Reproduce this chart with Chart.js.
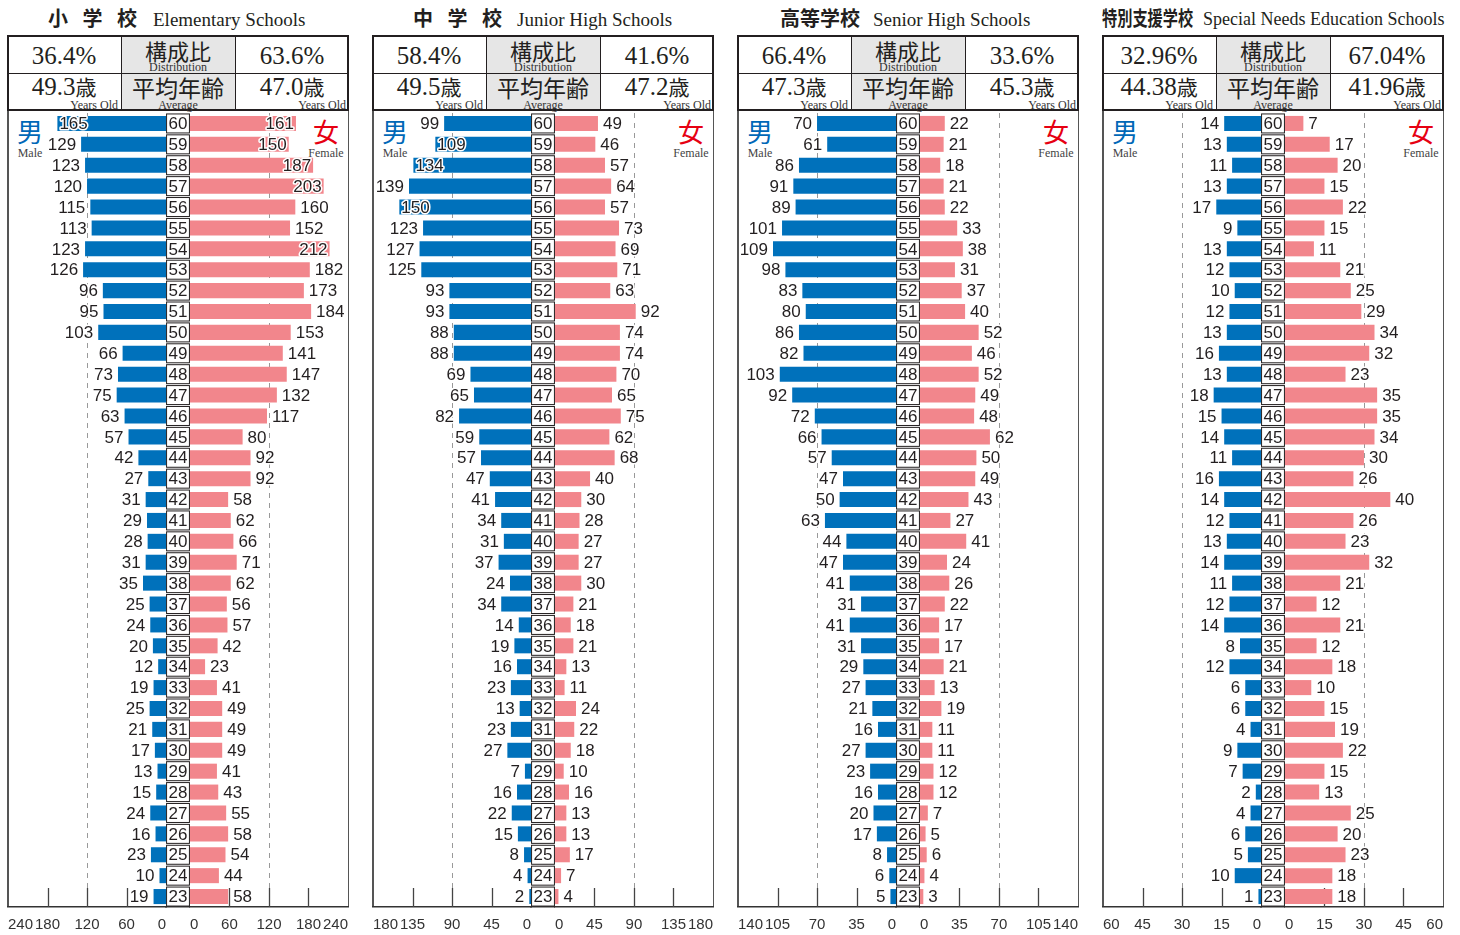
<!DOCTYPE html>
<html lang="ja">
<head>
<meta charset="utf-8">
<title>教員の年齢構成</title>
<script src="https://cdn.jsdelivr.net/npm/chart.js@4/dist/chart.umd.min.js"></script>
<style>
  html, body { margin: 0; padding: 0; background: #fff; }
  body { width: 1460px; height: 935px; position: relative; overflow: hidden; color: #231f20; font-family: "Liberation Serif", serif; }
  .panel { position: absolute; top: 0; width: 342px; height: 935px; }
  .abs { position: absolute; white-space: nowrap; line-height: 1; }
  .jp { font-family: "Noto Sans CJK JP", sans-serif; }
  /* the tick padding adds 8px on each side of the plot, so the canvas sticks out by 8px */
  canvas { position: absolute; left: -8px; top: 111px; }
</style>
</head>
<body>
<script>
// ages from top row to bottom row
const ages = [60, 59, 58, 57, 56, 55, 54, 53, 52, 51, 50, 49, 48, 47, 46, 45, 44, 43, 42,
              41, 40, 39, 38, 37, 36, 35, 34, 33, 32, 31, 30, 29, 28, 27, 26, 25, 24, 23]

const elemMale   = [165, 129, 123, 120, 115, 113, 123, 126, 96, 95, 103, 66, 73, 75, 63, 57, 42, 27, 31,
                    29, 28, 31, 35, 25, 24, 20, 12, 19, 25, 21, 17, 13, 15, 24, 16, 23, 10, 19]
const elemFemale = [161, 150, 187, 203, 160, 152, 212, 182, 173, 184, 153, 141, 147, 132, 117, 80, 92, 92, 58,
                    62, 66, 71, 62, 56, 57, 42, 23, 41, 49, 49, 49, 41, 43, 55, 58, 54, 44, 58]
const jrMale     = [99, 109, 134, 139, 150, 123, 127, 125, 93, 93, 88, 88, 69, 65, 82, 59, 57, 47, 41,
                    34, 31, 37, 24, 34, 14, 19, 16, 23, 13, 23, 27, 7, 16, 22, 15, 8, 4, 2]
const jrFemale   = [49, 46, 57, 64, 57, 73, 69, 71, 63, 92, 74, 74, 70, 65, 75, 62, 68, 40, 30,
                    28, 27, 27, 30, 21, 18, 21, 13, 11, 24, 22, 18, 10, 16, 13, 13, 17, 7, 4]
const srMale     = [70, 61, 86, 91, 89, 101, 109, 98, 83, 80, 86, 82, 103, 92, 72, 66, 57, 47, 50,
                    63, 44, 47, 41, 31, 41, 31, 29, 27, 21, 16, 27, 23, 16, 20, 17, 8, 6, 5]
const srFemale   = [22, 21, 18, 21, 22, 33, 38, 31, 37, 40, 52, 46, 52, 49, 48, 62, 50, 49, 43,
                    27, 41, 24, 26, 22, 17, 17, 21, 13, 19, 11, 11, 12, 12, 7, 5, 6, 4, 3]
const spMale     = [14, 13, 11, 13, 17, 9, 13, 12, 10, 12, 13, 16, 13, 18, 15, 14, 11, 16, 14,
                    12, 13, 14, 11, 12, 14, 8, 12, 6, 6, 4, 9, 7, 2, 4, 6, 5, 10, 1]
const spFemale   = [7, 17, 20, 15, 22, 15, 11, 21, 25, 29, 34, 32, 23, 35, 35, 34, 30, 26, 40,
                    26, 23, 32, 21, 12, 21, 12, 18, 10, 15, 19, 22, 15, 13, 25, 20, 23, 18, 18]

const schoolJa    = ["小 学 校", "中 学 校", "高等学校", "特別支援学校"]
const schoolEn    = ["Elementary Schools", "Junior High Schools", "Senior High Schools", "Special Needs Education Schools"]
const shareMale   = ["36.4%", "58.4%", "66.4%", "32.96%"]
const shareFemale = ["63.6%", "41.6%", "33.6%", "67.04%"]
const avgMale     = ["49.3", "49.5", "47.3", "44.38"]
const avgFemale   = ["47.0", "47.2", "45.3", "41.96"]
const axisMax     = [240, 180, 140, 60]
const axisStep    = [60, 45, 35, 15]

const maleSeries   = [elemMale, jrMale, srMale, spMale]
const femaleSeries = [elemFemale, jrFemale, srFemale, spFemale]

const BLUE = "#0071bb"
const PINK = "#f2868c"
const INK = "#231f20"
const NUM_FONT = '17px "Liberation Sans", Arial, sans-serif'

// title placement per panel: left of japanese, left of english, squeeze of japanese, english size
const titleLayout = [[41, 146, 1, 19], [41, 145, 1, 19], [43, 136, 1, 19], [0, 101, 0.76, 18]]

function put(parent, html, x, y, css, anchor) {
  const d = document.createElement("div")
  d.className = "abs"
  d.innerHTML = html
  d.style.left = x + "px"
  d.style.top = y + "px"
  d.style.transform = anchor || "translate(-50%, -50%)"
  if (css) d.style.cssText += css
  parent.appendChild(d)
  return d
}

function box(parent, x, y, w, h, css) {
  const d = document.createElement("div")
  d.style.cssText = `position:absolute;left:${x}px;top:${y}px;width:${w}px;height:${h}px;box-sizing:border-box;` + css
  parent.appendChild(d)
}

const pyramid = {
  id: "pyramid",
  beforeDatasetsDraw(chart, args, opts) {
    const { ctx, chartArea: a, scales } = chart
    ctx.save()
    ;["xm", "xf"].forEach(id => {
      const s = scales[id]
      s.ticks.forEach(t => {
        const v = Math.abs(t.value)
        if (v === 0 || v === opts.max) return
        const x = Math.round(s.getPixelForValue(t.value)) + 0.5
        ctx.setLineDash([])
        ctx.strokeStyle = "#444"
        ctx.lineWidth = 1.3
        ctx.beginPath(); ctx.moveTo(x, a.bottom - 19); ctx.lineTo(x, a.bottom); ctx.stroke()
        if (v === opts.max / 2) {
          ctx.setLineDash([5, 5])
          ctx.strokeStyle = "#999"
          ctx.lineWidth = 1
          ctx.beginPath(); ctx.moveTo(x, a.top); ctx.lineTo(x, a.bottom - 19); ctx.stroke()
        }
      })
    })
    ctx.restore()
  },
  afterDatasetsDraw(chart, args, opts) {
    const { ctx, scales } = chart
    const gap = scales.xg, y = scales.y
    const left = scales.xm.left, right = scales.xf.right
    ctx.save()
    ctx.font = NUM_FONT
    ctx.textBaseline = "middle"

    // age boxes in the centre column
    chart.data.labels.forEach((lab, i) => {
      const yc = y.getPixelForValue(i)
      ctx.fillStyle = "#fff"
      ctx.strokeStyle = INK
      ctx.lineWidth = 1
      ctx.fillRect(gap.left + 0.5, yc - 9.5, gap.width - 1, 19)
      ctx.strokeRect(gap.left + 0.5, yc - 9.5, gap.width - 1, 19)
      ctx.fillStyle = INK
      ctx.textAlign = "center"
      ctx.fillText(String(lab), (gap.left + gap.right) / 2, yc + 1)
    })

    // value labels with a white halo; they move inside the bar when they would
    // run off the panel or into the 男 / 女 markers in the top rows
    chart.data.datasets.forEach((ds, di) => {
      const male = di === 0
      chart.getDatasetMeta(di).data.forEach((bar, i) => {
        const txt = String(Math.abs(ds.data[i]))
        const w = ctx.measureText(txt).width
        let inside
        if (male) {
          const start = bar.x - 5 - w
          inside = start < left + 1 || (i < 3 && start < left + 35)
        } else {
          const end = bar.x + 5 + w
          inside = end > right - 1 || (i < 3 && end > right - 35)
        }
        let x
        if (male) {
          x = inside ? bar.x + 2 : bar.x - 5
          ctx.textAlign = inside ? "left" : "right"
        } else {
          x = inside ? bar.x - 2 : bar.x + 5
          ctx.textAlign = inside ? "right" : "left"
        }
        ctx.lineJoin = "round"
        ctx.lineWidth = 3
        ctx.strokeStyle = "#fff"
        ctx.strokeText(txt, x, bar.y + 1)
        ctx.fillStyle = INK
        ctx.fillText(txt, x, bar.y + 1)
      })
    })
    ctx.restore()
  }
}

const tickFont = { family: '"Liberation Sans Narrow", "Liberation Sans", sans-serif', size: 15 }
const axisBorder = { display: true, color: "#333", width: 1.5 }
const tickOpts = (step) => ({
  stepSize: step, align: "inner", autoSkip: false, maxRotation: 0, minRotation: 0,
  font: tickFont, color: "#333", padding: 9,
  callback: v => String(Math.abs(v))
})

schoolJa.forEach((ja, k) => {
  const p = document.createElement("div")
  p.className = "panel"
  p.style.left = (7 + 365 * k) + "px"
  document.body.appendChild(p)

  // title
  const [jl, el, sq, es] = titleLayout[k]
  const jt = put(p, ja.replace(/ /g, "&nbsp;"), jl, 18,
    `font-family:"Noto Sans CJK JP",sans-serif;font-weight:700;font-size:20px;transform-origin:left center;`,
    `translate(0, -50%) scaleX(${sq})`)
  if (ja.includes(" ")) jt.style.letterSpacing = "5px"
  put(p, schoolEn[k], el, 19, `font-size:${es}px;`, "translate(0, -50%)")

  // header table
  box(p, 114, 35, 114, 76, "background:#e6e6e6;")
  box(p, 114, 35, 1, 76, "background:" + INK + ";")
  box(p, 228, 35, 1, 76, "background:" + INK + ";")
  box(p, 0, 73, 342, 1, "background:" + INK + ";")
  box(p, 0, 35, 342, 76, "border:2px solid " + INK + ";")

  put(p, shareMale[k], 57, 55, "font-size:25px;")
  put(p, shareFemale[k], 285, 55, "font-size:25px;")
  put(p, "構成比", 171, 50, 'font-family:"Noto Sans CJK JP",sans-serif;font-size:22px;')
  put(p, "Distribution", 171, 67, "font-size:12px;color:#333;")

  const sai = '<span class="jp" style="font-size:21px">歳</span>'
  put(p, avgMale[k] + sai, 57, 86, "font-size:25px;")
  put(p, avgFemale[k] + sai, 285, 86, "font-size:25px;")
  put(p, "Years Old", 111, 105, "font-size:12px;color:#333;", "translate(-100%, -50%)")
  put(p, "Years Old", 339, 105, "font-size:12px;color:#333;", "translate(-100%, -50%)")
  put(p, "平均年齢", 171, 87, 'font-family:"Noto Sans CJK JP",sans-serif;font-size:23px;')
  put(p, "Average", 171, 105, "font-size:12px;color:#333;")

  // plot frame sides
  box(p, 0, 111, 1.5, 795, "background:#555;")
  box(p, 340.5, 111, 1.5, 795, "background:#555;")

  // sex markers
  put(p, "男", 23, 131, 'font-family:"Noto Sans CJK JP",sans-serif;font-size:26px;color:#0068b7;')
  put(p, "Male", 23, 153, "font-size:12px;color:#444;")
  put(p, "女", 319, 131, 'font-family:"Noto Sans CJK JP",sans-serif;font-size:26px;color:#e60012;')
  put(p, "Female", 319, 153, "font-size:12px;color:#444;")

  const canvas = document.createElement("canvas")
  canvas.width = 358
  canvas.height = 834
  canvas.style.width = "358px"
  canvas.style.height = "834px"
  p.appendChild(canvas)

  const max = axisMax[k], step = axisStep[k]
  new Chart(canvas, {
    type: "bar",
    data: {
      labels: ages,
      datasets: [
        // male counts are plotted leftwards as negatives; labels show them unsigned
        { data: maleSeries[k].map(v => -v), xAxisID: "xm", backgroundColor: BLUE, grouped: false,
          barPercentage: 0.72, categoryPercentage: 1 },
        { data: femaleSeries[k], xAxisID: "xf", backgroundColor: PINK, grouped: false,
          barPercentage: 0.72, categoryPercentage: 1 }
      ]
    },
    options: {
      indexAxis: "y",
      responsive: false,
      animation: false,
      layout: { padding: { top: 2, bottom: 2, left: 0, right: 0 } },
      plugins: {
        legend: { display: false },
        tooltip: { enabled: false },
        pyramid: { max }
      },
      scales: {
        xm: {
          type: "linear", position: "bottom", stack: "row", stackWeight: 159,
          min: -max, max: 0, ticks: tickOpts(step),
          grid: { display: false, drawTicks: false }, border: axisBorder
        },
        xg: {
          type: "linear", position: "bottom", stack: "row", stackWeight: 24, min: 0, max: 1,
          ticks: { display: false }, grid: { display: false, drawTicks: false }, border: axisBorder
        },
        xf: {
          type: "linear", position: "bottom", stack: "row", stackWeight: 159,
          min: 0, max, ticks: tickOpts(step),
          grid: { display: false, drawTicks: false }, border: axisBorder
        },
        y: { type: "category", display: false, grid: { display: false } }
      }
    },
    plugins: [pyramid]
  })
})
</script>
</body>
</html>
